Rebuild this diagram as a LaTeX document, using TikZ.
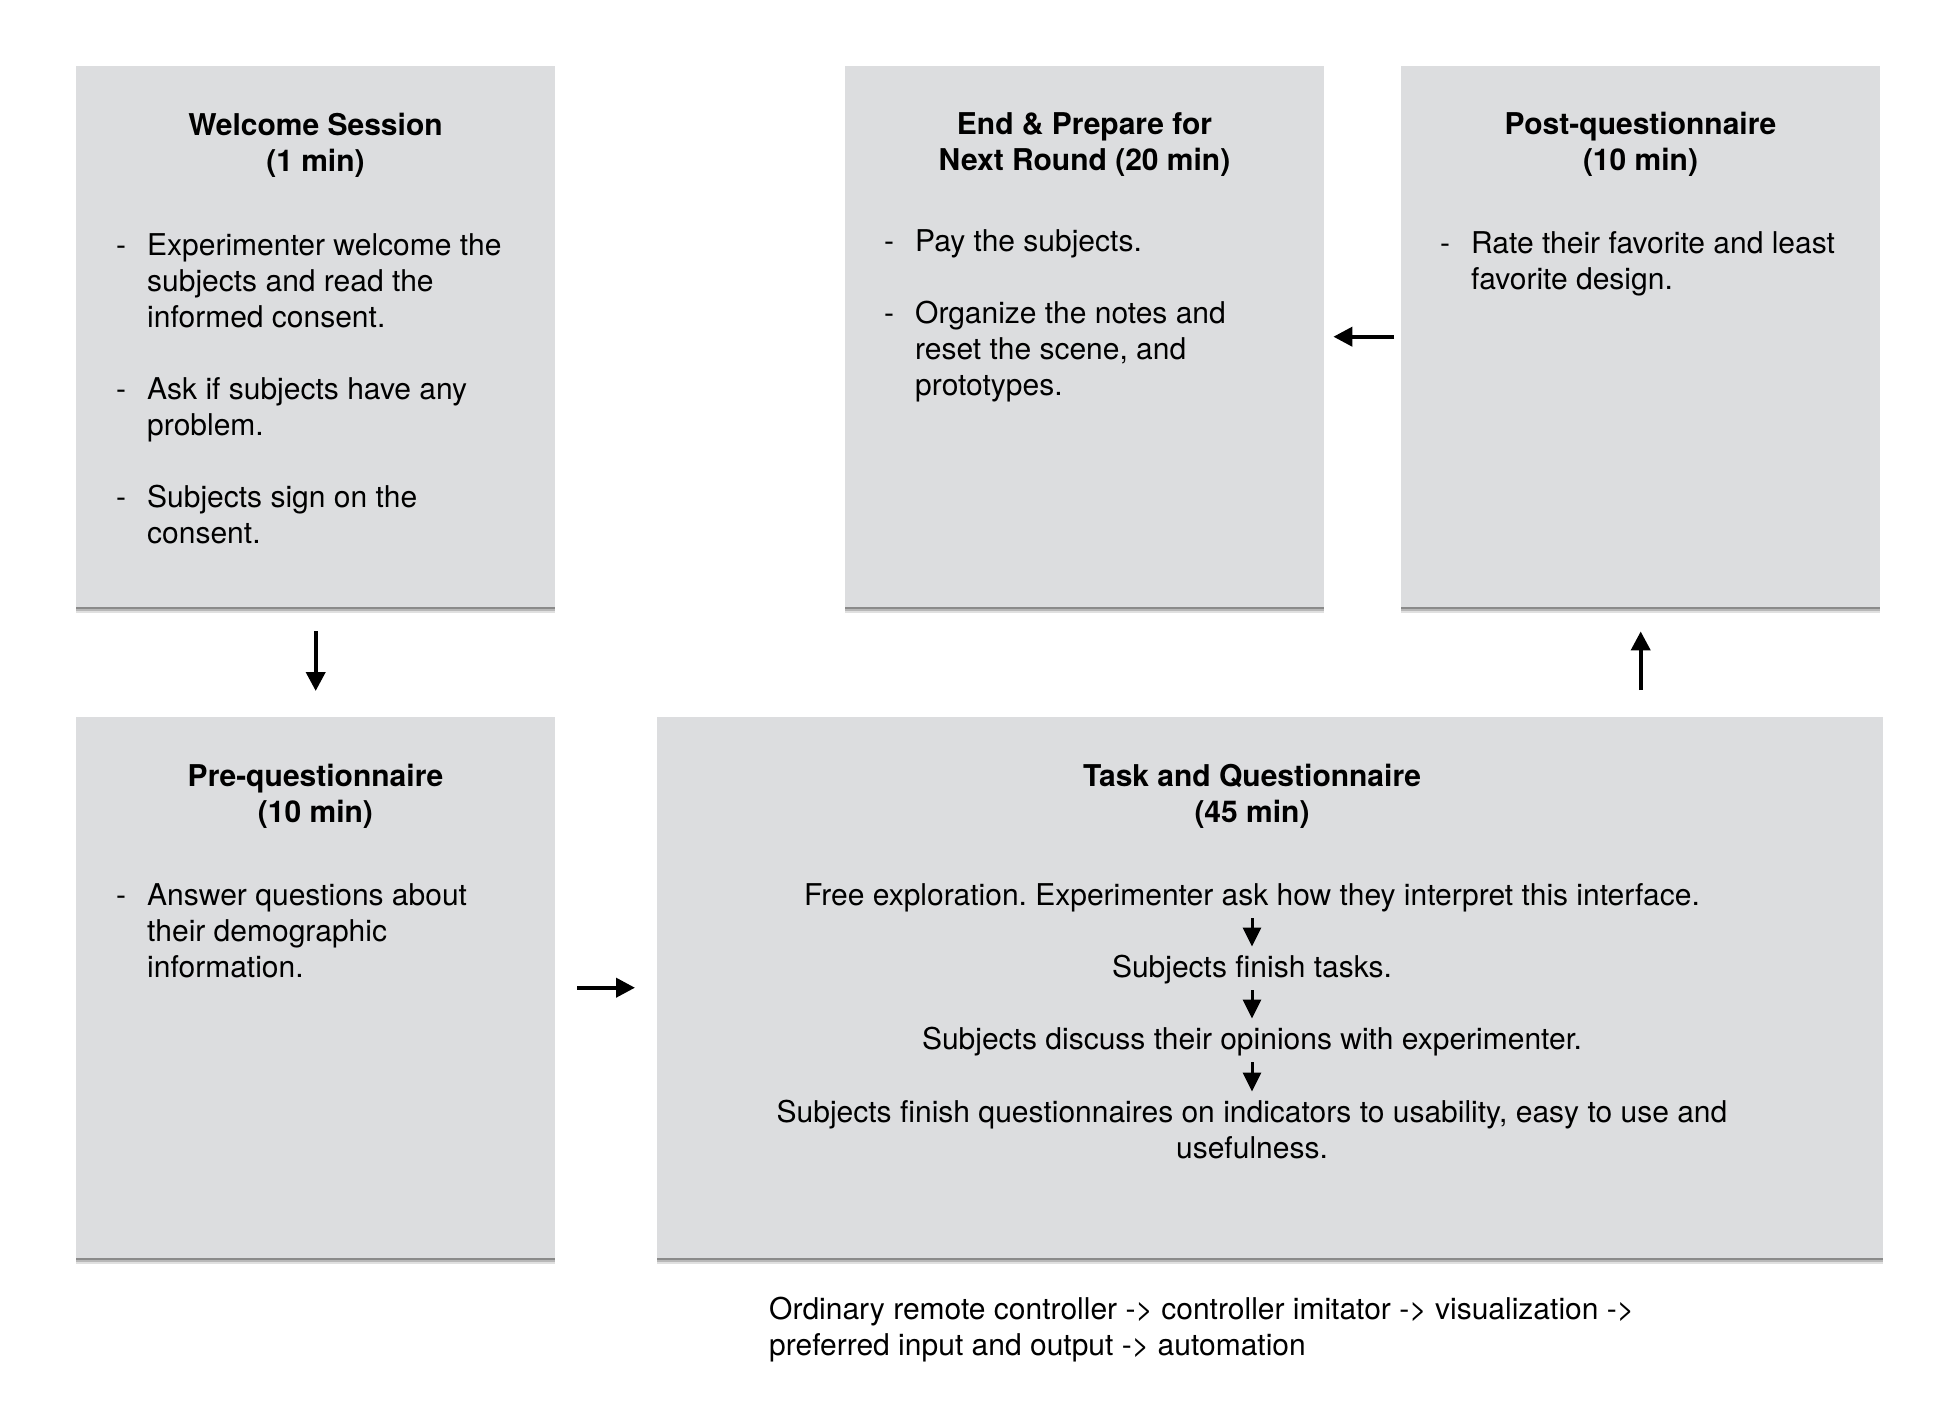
\documentclass[tikz,border=0pt]{standalone}
\usepackage{fontspec}
\setmainfont{TeX Gyre Heros}
\usetikzlibrary{arrows.meta,shadows,calc}
\definecolor{stagegray}{RGB}{220,221,223}
\newcommand{\rows}[2][c]{\begin{tabular}[t]{@{}#1@{}}#2\end{tabular}}
\newcommand{\bullets}[1]{\begin{tabular}[t]{@{}p{31pt}@{}l@{}}#1\end{tabular}}
\frenchspacing

\begin{document}
\begin{tikzpicture}[x=1pt,y=-1pt,
	font=\fontsize{30}{36}\selectfont,
	stage/.style={fill=stagegray, anchor=north west, inner sep=0pt, minimum height=541pt,
		drop shadow={shadow xshift=0pt, shadow yshift=-6pt, opacity=0.12, fill=black},
		drop shadow={shadow xshift=0pt, shadow yshift=-4pt, opacity=0.18, fill=black},
		drop shadow={shadow xshift=0pt, shadow yshift=-2pt, opacity=0.25, fill=black}},
	heading/.style={anchor=base, inner sep=0pt, font=\fontsize{30}{36}\selectfont\bfseries},
	items/.style={anchor=base west, inner sep=0pt},
	stepline/.style={anchor=base, inner sep=0pt, text height=25.2pt, text depth=10.8pt},
	flow/.style={-{Triangle[length=19pt,width=19pt]}, line width=4pt},
	substep/.style={-{Triangle[length=19pt,width=18pt]}, line width=3pt, shorten <=2pt, shorten >=5pt}]
		\useasboundingbox (0,0) rectangle (1960,1414);
		% stages
		\node[stage, minimum width=479pt] (welcome) at (76,66) {};
		\node[stage, minimum width=479pt] (wrapup) at (845,66) {};
		\node[stage, minimum width=479pt] (post) at (1401,66) {};
		\node[stage, minimum width=479pt] (pre) at (76,717) {};
		\node[stage, minimum width=1226pt] (task) at (657,717) {};
		% titles
		\node[heading] (welcome-title) at (315.5,135) {\rows{Welcome Session\\(1 min)}};
		\node[heading] (wrapup-title) at (1084.5,134) {\rows{End \& Prepare for\\Next Round (20 min)}};
		\node[heading] (post-title) at (1640.5,134) {\rows{Post-questionnaire\\(10 min)}};
		\node[heading] (pre-title) at (315.5,786) {\rows{Pre-questionnaire\\(10 min)}};
		\node[heading] (task-title) at (1252,786) {\rows{Task and Questionnaire\\(45 min)}};
		% lists
		\node[items] (welcome-list) at (116,255) {\bullets{-&Experimenter welcome the\\&subjects and read the\\&informed consent.\\[36pt]
			-&Ask if subjects have any\\&problem.\\[36pt]
			-&Subjects sign on the\\&consent.}};
		\node[items] (wrapup-list) at (884,251) {\bullets{-&Pay the subjects.\\[36pt]
			-&Organize the notes and\\&reset the scene, and\\&prototypes.}};
		\node[items] (post-list) at (1440,253) {\bullets{-&Rate their favorite and least\\&favorite design.}};
		\node[items] (pre-list) at (116,905) {\bullets{-&Answer questions about\\&their demographic\\&information.}};
		% task steps
		\node[stepline] (explore) at (1252,905) {Free exploration. Experimenter ask how they interpret this interface.};
		\node[stepline] (tasks) at (1252,977) {Subjects finish tasks.};
		\node[stepline] (discuss) at (1252,1049) {Subjects discuss their opinions with experimenter.};
		\node[anchor=base, inner sep=0pt] (survey) at (1252,1122) {\rows{Subjects finish questionnaires on indicators to usability, easy to use and\\usefulness.}};
		\draw[substep] (explore) -- (tasks);
		\draw[substep] (tasks) -- (discuss);
		\draw[substep] (discuss) -- (survey);
		% order of prototypes
		\node[items] (order) at (769,1319) {\rows[l]{Ordinary remote controller -> controller imitator -> visualization ->\\preferred input and output -> automation}};
		% flow
		\draw[flow, shorten <=24pt, shorten >=26pt] (welcome) -- (pre);
		\draw[flow, shorten <=22pt, shorten >=22pt] (pre) -- (task);
		\draw[flow, shorten <=27pt, shorten >=24pt] (task.north -| post) -- (post);
		\draw[flow, shorten <=7pt, shorten >=9pt] (post) -- (wrapup);
\end{tikzpicture}
\end{document}
